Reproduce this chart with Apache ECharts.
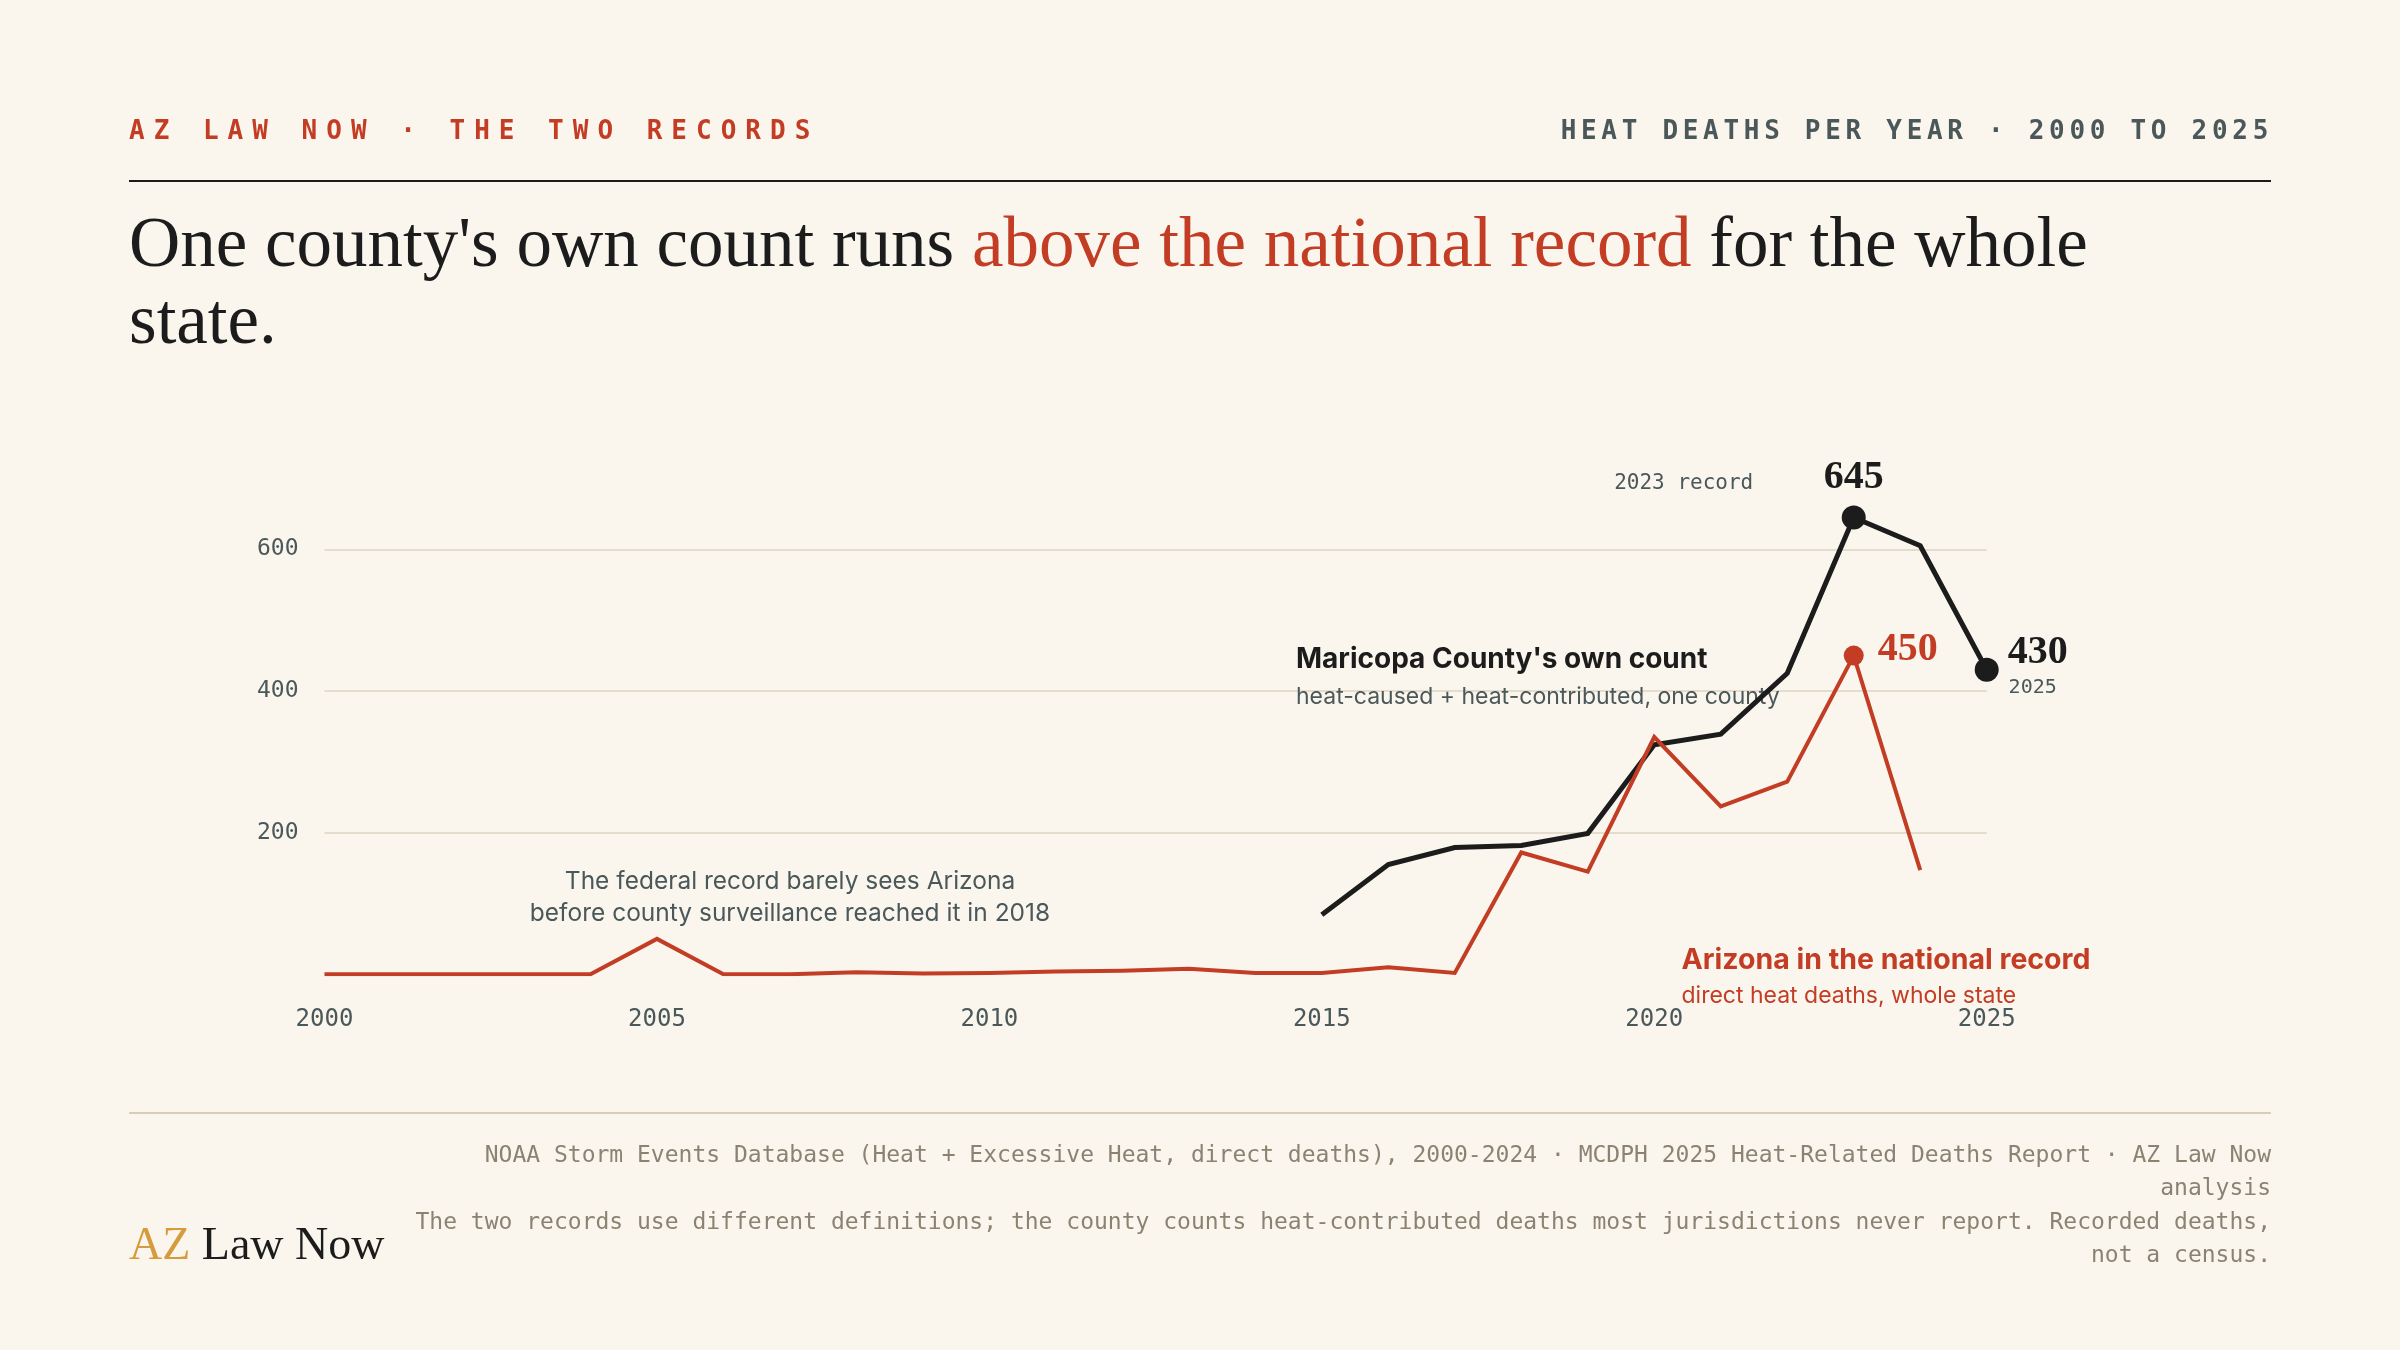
<!DOCTYPE html>
<html>
<head>
<meta charset="utf-8">
<title>Heat deaths per year, 2000 to 2025</title>
<script src="https://cdn.jsdelivr.net/npm/echarts@6/dist/echarts.min.js"></script>
<style>
  html, body { margin: 0; padding: 0; background: #faf6ee; }
  #page { position: relative; width: 2400px; height: 1350px; overflow: hidden; background: #faf6ee; }
  #chartmain { position: absolute; left: 0; top: 0; width: 2400px; height: 1350px; }
  .txt { position: absolute; white-space: nowrap; z-index: 2; }
  .kicker { top: 117px; font-family: "DejaVu Sans Mono", monospace; font-size: 26px; line-height: 26px; font-weight: bold; }
  #kickL { left: 129px; color: #c33d25; letter-spacing: 9px; }
  #kickR { right: 127px; color: #4b585a; letter-spacing: 4.7px; }
  .rule { position: absolute; left: 129px; width: 2142px; height: 2px; z-index: 2; }
  #title { left: 129px; top: 204px; font-family: "Liberation Serif", serif; font-size: 71px; line-height: 77px; color: #1c1c1c; }
  #title .hl { color: #c33d25; }
  #logo { left: 129px; top: 1221px; font-family: "Liberation Serif", serif; font-size: 46px; line-height: 46px; color: #1c1c1c; }
  #logo .az { color: #d69b3c; }
  #source { right: 129px; top: 1138px; font-family: "DejaVu Sans Mono", monospace; font-size: 23px; line-height: 33.3px; color: #8b8272; text-align: right; }
</style>
</head>
<body>
<div id="page">
  <div id="chartmain"></div>
  <div class="txt kicker" id="kickL">AZ LAW NOW · THE TWO RECORDS</div>
  <div class="txt kicker" id="kickR">HEAT DEATHS PER YEAR · 2000 TO 2025</div>
  <div class="rule" style="top:180px;background:#1c1c1c;"></div>
  <div class="txt" id="title">One county's own count runs <span class="hl">above the national record</span> for the whole<br>state.</div>
  <div class="rule" style="top:1112px;background:#d7cdb9;"></div>
  <div class="txt" id="logo"><span class="az">AZ</span> Law Now</div>
  <div class="txt" id="source">NOAA Storm Events Database (Heat + Excessive Heat, direct deaths), 2000-2024 · MCDPH 2025 Heat-Related Deaths Report · AZ Law Now<br>analysis<br>The two records use different definitions; the county counts heat-contributed deaths most jurisdictions never report. Recorded deaths,<br>not a census.</div>
</div>
<script>
// Arizona in the NOAA national record (direct heat deaths, whole state)
var stateYears  = [2000, 2001, 2002, 2003, 2004, 2005, 2006, 2007, 2008, 2009, 2010, 2011, 2012,
                   2013, 2014, 2015, 2016, 2017, 2018, 2019, 2020, 2021, 2022, 2023, 2024];
var stateDeaths = [0, 0, 0, 0, 0, 50, 0, 0, 3, 1, 2, 4, 5,
                   8, 2, 2, 10, 2, 172, 145, 335, 237, 272, 450, 147];

// Maricopa County's own count (heat-caused + heat-contributed)
var countyYears  = [2015, 2016, 2017, 2018, 2019, 2020, 2021, 2022, 2023, 2024, 2025];
var countyDeaths = [84, 155, 179, 182, 199, 324, 339, 425, 645, 605, 430];

// highlighted points
var countyMarks = [[2023, 645], [2025, 430]];
var stateMarks  = [[2023, 450]];

var RED = '#c33d25', INK = '#1c1c1c', SLATE = '#4b585a';
var MONO = '"DejaVu Sans Mono", monospace';
var SERIF = '"Liberation Serif", serif';
var SANS = 'Inter, "Noto Sans", sans-serif';

function pairs(xs, ys) {
    var out = [];
    for (var i = 0; i < xs.length; i++) out.push([xs[i], ys[i]]);
    return out;
}

var numLabel = function (color, offset, text) {
    return {
        show: true, position: 'inside', offset: offset, formatter: text, opacity: 1,
        fontFamily: SERIF, fontSize: 40, fontWeight: 'bold', color: color
    };
};

var option = {
    backgroundColor: 'transparent',
    animation: false,
    grid: { left: 324.5, right: 413.3, top: 407.7, bottom: 375.7 },
    xAxis: {
        type: 'value', min: 2000, max: 2025, interval: 5,
        axisLine: { show: false }, axisTick: { show: false }, splitLine: { show: false },
        axisLabel: {
            margin: 33, fontFamily: MONO, fontSize: 24, color: SLATE,
            formatter: function (v) { return String(v); }
        }
    },
    yAxis: {
        type: 'value', min: 0, max: 800, interval: 200,
        axisLine: { show: false }, axisTick: { show: false },
        axisLabel: { margin: 26, fontFamily: MONO, fontSize: 23, color: SLATE,
                     showMinLabel: false, showMaxLabel: false },
        splitLine: { show: true, showMinLine: false, showMaxLine: false,
                     lineStyle: { color: '#dcd3c2', width: 1.5 } }
    },
    series: [
        {
            name: "Maricopa County's own count", type: 'line', z: 3,
            data: pairs(countyYears, countyDeaths), showSymbol: false,
            lineStyle: { color: INK, width: 5, join: 'miter' }
        },
        {
            name: 'Arizona in the national record', type: 'line', z: 4,
            data: pairs(stateYears, stateDeaths), showSymbol: false,
            lineStyle: { color: RED, width: 4, join: 'miter' }
        },
        {
            type: 'scatter', z: 5, symbolSize: 24, itemStyle: { color: INK, opacity: 1 },
            data: [
                { value: countyMarks[0], label: numLabel(INK, [0, -40], String(countyMarks[0][1])) },
                { value: countyMarks[1], label: numLabel(INK, [51, -17], String(countyMarks[1][1])) }
            ],
            markPoint: {
                symbol: 'circle', symbolSize: 1, itemStyle: { color: 'transparent' },
                data: [
                    { coord: countyMarks[0], label: { show: true, position: 'inside', offset: [-170, -34],
                      formatter: '2023 record', fontFamily: MONO, fontSize: 21, color: SLATE } },
                    { coord: countyMarks[1], label: { show: true, position: 'inside', offset: [46, 18],
                      formatter: '2025', fontFamily: MONO, fontSize: 20, color: SLATE } }
                ]
            }
        },
        {
            type: 'scatter', z: 5, symbolSize: 20, itemStyle: { color: RED, opacity: 1 },
            data: [
                { value: stateMarks[0], label: numLabel(RED, [54, -6], String(stateMarks[0][1])) }
            ]
        }
    ],
    graphic: [
        { type: 'text', x: 1296, y: 660, z: 1, style: { text: "Maricopa County's own count",
          font: 'bold 28px ' + SANS, fill: INK, align: 'left', verticalAlign: 'middle' } },
        { type: 'text', x: 1296, y: 697, z: 1, style: { text: 'heat-caused + heat-contributed, one county',
          font: '23px ' + SANS, fill: SLATE, align: 'left', verticalAlign: 'middle' } },
        { type: 'text', x: 790, y: 898, z: 1, style: { text: 'The federal record barely sees Arizona\nbefore county surveillance reached it in 2018',
          font: '24.5px ' + SANS, lineHeight: 32, fill: SLATE, align: 'center', verticalAlign: 'middle' } },
        { type: 'text', x: 1681.5, y: 960.5, z: 1, style: { text: 'Arizona in the national record',
          font: 'bold 28.5px ' + SANS, fill: RED, align: 'left', verticalAlign: 'middle' } },
        { type: 'text', x: 1681.5, y: 996, z: 1, style: { text: 'direct heat deaths, whole state',
          font: '23px ' + SANS, fill: RED, align: 'left', verticalAlign: 'middle' } }
    ]
};

var myChart = echarts.init(document.getElementById('chartmain'));
myChart.setOption(option);
</script>
</body>
</html>
